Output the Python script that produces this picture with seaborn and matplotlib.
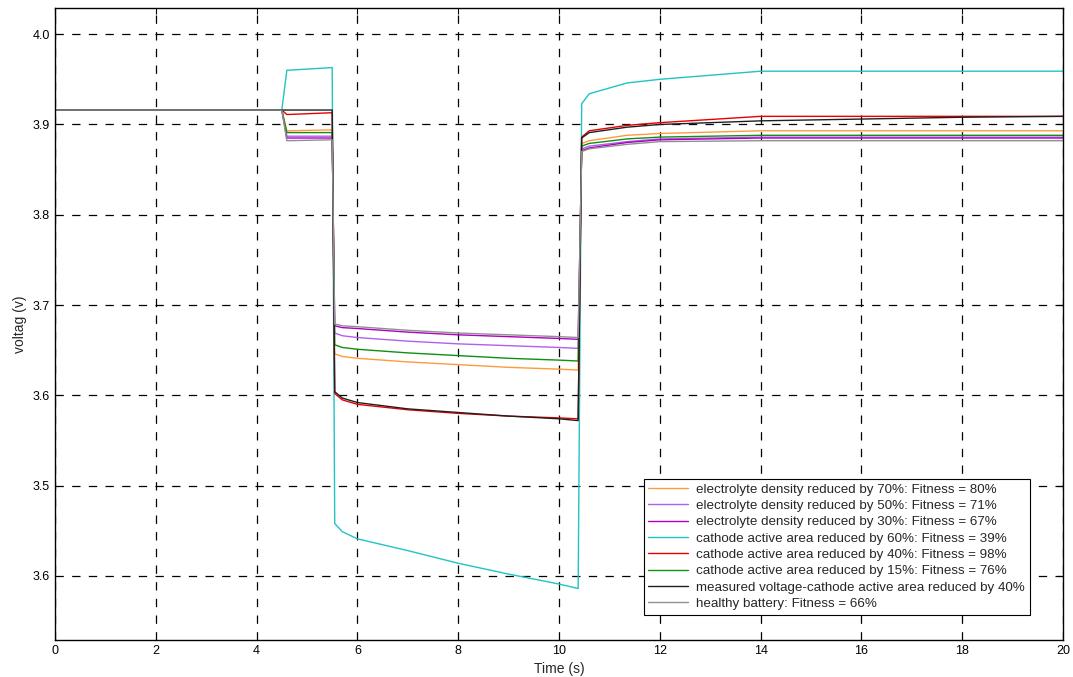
import matplotlib
matplotlib.use("Agg")
import matplotlib.pyplot as plt
import seaborn as sns
import pandas as pd

# ---- data ----
time = [0, 4.5, 4.6, 5.5, 5.55, 5.7, 6, 7, 8, 9, 10, 10.38, 10.45, 10.6, 11.35, 12, 14, 16, 18, 20]

labels = [
    "electrolyte density reduced by 70%: Fitness = 80%",
    "electrolyte density reduced by 50%: Fitness = 71%",
    "electrolyte density reduced by 30%: Fitness = 67%",
    "cathode active area reduced by 60%: Fitness = 39%",
    "cathode active area reduced by 40%: Fitness = 98%",
    "cathode active area reduced by 15%: Fitness = 76%",
    "measured voltage-cathode active area reduced by 40%",
    "healthy battery: Fitness = 66%",
]
colors = ["#FF9A3C", "#B060F0", "#B000C0", "#20C4C4", "#E80000", "#109010", "#202020", "#909090"]

elec70 = [3.916, 3.916, 3.893, 3.894, 3.646, 3.643, 3.641, 3.637, 3.634, 3.631, 3.629, 3.628, 3.879, 3.882, 3.888, 3.890, 3.893, 3.893, 3.893, 3.893]
elec50 = [3.916, 3.916, 3.887, 3.887, 3.669, 3.666, 3.664, 3.660, 3.657, 3.655, 3.653, 3.652, 3.873, 3.876, 3.881, 3.884, 3.886, 3.886, 3.886, 3.886]
elec30 = [3.916, 3.916, 3.885, 3.885, 3.677, 3.675, 3.674, 3.670, 3.667, 3.665, 3.663, 3.662, 3.871, 3.874, 3.880, 3.883, 3.885, 3.885, 3.885, 3.885]
cath60 = [3.916, 3.916, 3.960, 3.963, 3.458, 3.449, 3.441, 3.428, 3.414, 3.402, 3.391, 3.386, 3.923, 3.934, 3.946, 3.950, 3.959, 3.959, 3.959, 3.959]
cath40 = [3.916, 3.916, 3.911, 3.913, 3.602, 3.595, 3.590, 3.584, 3.580, 3.577, 3.575, 3.574, 3.886, 3.893, 3.899, 3.902, 3.909, 3.909, 3.909, 3.909]
cath15 = [3.916, 3.916, 3.891, 3.891, 3.656, 3.653, 3.651, 3.647, 3.644, 3.641, 3.639, 3.638, 3.876, 3.879, 3.884, 3.886, 3.888, 3.888, 3.888, 3.888]
measured = [3.916, 3.916, 3.916, 3.916, 3.604, 3.597, 3.592, 3.585, 3.581, 3.577, 3.574, 3.572, 3.885, 3.891, 3.897, 3.900, 3.904, 3.906, 3.908, 3.909]
healthy = [3.916, 3.916, 3.882, 3.883, 3.679, 3.677, 3.676, 3.672, 3.669, 3.667, 3.665, 3.664, 3.870, 3.873, 3.878, 3.881, 3.882, 3.882, 3.882, 3.882]

series = [elec70, elec50, elec30, cath60, cath40, cath15, measured, healthy]

x_ticks = [0, 2, 4, 6, 8, 10, 12, 14, 16, 18, 20]
y_ticks = [3.4, 3.5, 3.6, 3.7, 3.8, 3.9, 4.0]
y_tick_labels = ["3.6", "3.5", "3.6", "3.7", "3.8", "3.9", "4.0"]

rows = []
for lab, vals in zip(labels, series):
    for t, v in zip(time, vals):
        rows.append({"Time": t, "Voltage": v, "series": lab})
df = pd.DataFrame(rows)

sns.set_style("white")
plt.rcParams["font.family"] = ["Liberation Sans", "DejaVu Sans"]
plt.rcParams["lines.scale_dashes"] = False

fig = plt.figure(figsize=(10.73, 6.77), dpi=100)
ax = fig.add_axes([55 / 1073, 1 - 640 / 677, 1008 / 1073, 632 / 677])

sns.lineplot(data=df, x="Time", y="Voltage", hue="series", hue_order=labels,
             palette=dict(zip(labels, colors)), sort=False, estimator=None,
             linewidth=1.0, ax=ax)

ax.set_xlim(0, 20)
ax.set_ylim(3.329, 4.029)
ax.set_xticks(x_ticks)
ax.set_xticklabels([str(v) for v in x_ticks])
ax.set_yticks(y_ticks)
ax.set_yticklabels(y_tick_labels)
ax.grid(True, color="black", linestyle=(0, (6, 6)), linewidth=0.9)
ax.tick_params(direction="in", top=True, right=True, length=4, width=0.8,
               labelsize=9, colors="black")
for s in ax.spines.values():
    s.set_color("black")
    s.set_linewidth(1.0)
ax.set_xlabel("Time (s)", fontsize=10)
ax.set_ylabel("voltag (v)", fontsize=10)

leg = ax.legend(loc="lower right", bbox_to_anchor=(0.967, 0.04), fontsize=9.6,
                frameon=True, fancybox=False, edgecolor="black", framealpha=1,
                handlelength=3.0, handletextpad=0.6, borderpad=0.35,
                labelspacing=0.3, borderaxespad=0)
leg.get_frame().set_linewidth(0.8)
for line in leg.get_lines():
    line.set_linewidth(1.0)

fig.savefig("out.png", dpi=100)
